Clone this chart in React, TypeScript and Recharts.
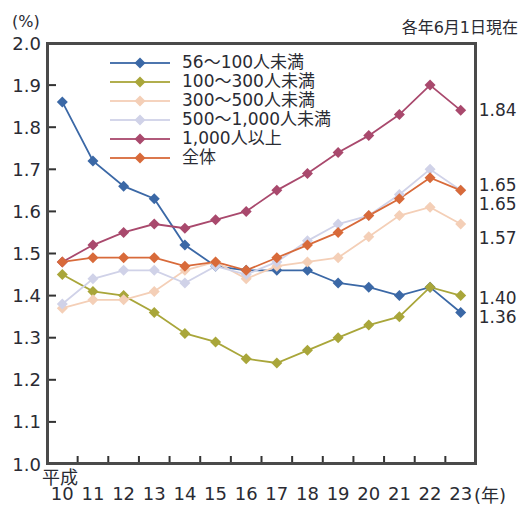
import React from "react";
import { LineChart, Line, XAxis, YAxis, LabelList } from "recharts";

const years = [10, 11, 12, 13, 14, 15, 16, 17, 18, 19, 20, 21, 22, 23];
const yTicks = [1.0, 1.1, 1.2, 1.3, 1.4, 1.5, 1.6, 1.7, 1.8, 1.9, 2.0];
// tick marks sit between the years; each mark carries the label of the year after it
const xTicks = [9.5, 10.5, 11.5, 12.5, 13.5, 14.5, 15.5, 16.5, 17.5, 18.5, 19.5, 20.5, 21.5, 22.5];

const s56 = [1.86, 1.72, 1.66, 1.63, 1.52, 1.47, 1.46, 1.46, 1.46, 1.43, 1.42, 1.4, 1.42, 1.36];
const s100 = [1.45, 1.41, 1.4, 1.36, 1.31, 1.29, 1.25, 1.24, 1.27, 1.3, 1.33, 1.35, 1.42, 1.4];
const s300 = [1.37, 1.39, 1.39, 1.41, 1.46, 1.48, 1.44, 1.47, 1.48, 1.49, 1.54, 1.59, 1.61, 1.57];
const s500 = [1.38, 1.44, 1.46, 1.46, 1.43, 1.47, 1.45, 1.48, 1.53, 1.57, 1.59, 1.64, 1.7, 1.65];
const s1000 = [1.48, 1.52, 1.55, 1.57, 1.56, 1.58, 1.6, 1.65, 1.69, 1.74, 1.78, 1.83, 1.9, 1.84];
const sAll = [1.48, 1.49, 1.49, 1.49, 1.47, 1.48, 1.46, 1.49, 1.52, 1.55, 1.59, 1.63, 1.68, 1.65];

const series = [
  { key: "s56", name: "56～100人未満", color: "#3b68a6", values: s56, dy: 5 },
  { key: "s100", name: "100～300人未満", color: "#a9a63a", values: s100, dy: 2 },
  { key: "s300", name: "300～500人未満", color: "#f4cfb7", values: s300, dy: 14 },
  { key: "s500", name: "500～1,000人未満", color: "#d0d2e8", values: s500, dy: -5 },
  { key: "s1000", name: "1,000人以上", color: "#a9496d", values: s1000, dy: 0 },
  { key: "sAll", name: "全体", color: "#d86a3a", values: sAll, dy: 14 },
];

const data = years.map((y, i) => {
  const row: Record<string, number> = { year: y };
  series.forEach((s) => (row[s.key] = s.values[i]));
  return row;
});

const FONT = '"DejaVu Sans", "Noto Sans CJK JP", sans-serif';
const TXT = "#2a2b33";
const W = 521;
const H = 505;
const M = { top: 43, right: 45, bottom: 11, left: 7 };
const Y_W = 40;
const X_H = 30;
const PLOT_L = M.left + Y_W;
const PLOT_W = W - M.right - PLOT_L;
const PLOT_H = H - M.top - M.bottom - X_H;
const HALF = PLOT_W / years.length / 2;

const Diamond = ({ cx, cy, color }: any) => {
  if (cx == null || cy == null) return null;
  const r = 5.5;
  return (
    <polygon
      points={`${cx},${cy - r} ${cx + r},${cy} ${cx},${cy + r} ${cx - r},${cy}`}
      fill={color}
    />
  );
};

// inward tick marks drawn as small filled rects next to the label
const YTick = ({ x, y, payload }: any) => (
  <g>
    <rect x={x} y={y - 1} width={9} height={2} fill="#333" />
    <text x={x - 6} y={y} textAnchor="end" dominantBaseline="central" fontSize={18} fill={TXT} fontFamily={FONT}>
      {Number(payload.value).toFixed(1)}
    </text>
  </g>
);

const XTick = ({ x, y, payload }: any) => (
  <g>
    {payload.value > 10 && <rect x={x - 1} y={y - 8} width={2} height={8} fill="#333" />}
    <text x={x + HALF} y={y + 29} textAnchor="middle" dominantBaseline="central" fontSize={18} fill={TXT} fontFamily={FONT}>
      {payload.value + 0.5}
    </text>
  </g>
);

const endLabel = (dy: number) => (p: any) => {
  if (p.index !== years.length - 1) return null;
  return (
    <text x={p.x + 18} y={p.y + dy} dominantBaseline="central" fontSize={17} fill={TXT} fontFamily={FONT}>
      {Number(p.value).toFixed(2)}
    </text>
  );
};

export default function App() {
  return (
    <div style={{ position: "absolute", left: 0, top: 0, width: W, height: H, fontFamily: FONT }}>
      <LineChart width={W} height={H} data={data} margin={M}>
        <XAxis
          dataKey="year"
          type="number"
          domain={[9.5, 23.5]}
          ticks={xTicks}
          tickSize={0}
          tickMargin={0}
          height={X_H}
          interval={0}
          axisLine={{ stroke: "#222", strokeWidth: 2 }}
          tickLine={false}
          tick={<XTick />}
        />
        <YAxis
          type="number"
          domain={[1.0, 2.0]}
          ticks={yTicks}
          width={Y_W}
          tickSize={0}
          tickMargin={0}
          interval={0}
          axisLine={{ stroke: "#222", strokeWidth: 2 }}
          tickLine={false}
          tick={<YTick />}
        />
        {series.map((s) => (
          <Line
            key={s.key}
            dataKey={s.key}
            stroke={s.color}
            strokeWidth={1.8}
            dot={<Diamond color={s.color} />}
            activeDot={false}
            isAnimationActive={false}
          >
            <LabelList dataKey={s.key} content={endLabel(s.dy)} />
          </Line>
        ))}
      </LineChart>

      {/* plot frame */}
      <div
        style={{
          position: "absolute",
          left: PLOT_L - 1,
          top: M.top - 1,
          width: PLOT_W + 2,
          height: PLOT_H + 2,
          boxSizing: "border-box",
          border: "3px solid #4a4a4a",
          pointerEvents: "none",
        }}
      />

      <div style={{ position: "absolute", left: 12, top: 12, fontSize: 16, color: TXT }}>(%)</div>
      <div style={{ position: "absolute", right: 3, top: 14, fontSize: 16, color: TXT }}>各年6月1日現在</div>
      <div style={{ position: "absolute", left: 42, top: 463, fontSize: 18, color: TXT }}>平成</div>
      <div style={{ position: "absolute", left: 474, top: 481, fontSize: 18, color: TXT }}>(年)</div>

      <div style={{ position: "absolute", left: 110, top: 53 }}>
        {series.map((s) => (
          <div key={s.key} style={{ display: "flex", alignItems: "center", height: 19 }}>
            <svg width={60} height={14} style={{ flex: "none" }}>
              <rect x={0} y={6.1} width={60} height={1.8} fill={s.color} />
              <polygon points="30,1.5 35.5,7 30,12.5 24.5,7" fill={s.color} />
            </svg>
            <span style={{ marginLeft: 12, fontSize: 17, lineHeight: "19px", color: TXT, whiteSpace: "nowrap" }}>{s.name}</span>
          </div>
        ))}
      </div>
    </div>
  );
}
